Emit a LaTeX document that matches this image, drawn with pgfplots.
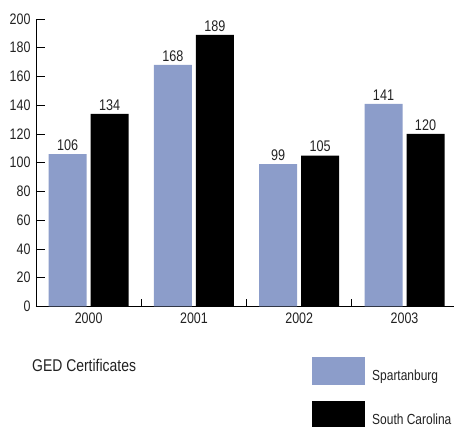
\documentclass[border=0pt]{standalone}
\usepackage{fontspec}
\setmainfont{Liberation Sans}[FakeStretch=0.82]
\usepackage{pgfplots}
\pgfplotsset{compat=1.18}
\definecolor{spbg}{HTML}{8C9DCA}
\definecolor{labgray}{HTML}{222222}

\begin{document}
\begin{tikzpicture}
	\begin{axis}[%
		at = {(0,0)},
		anchor = south west,
		scale only axis,
		width = 418pt,
		height = 287.5pt,
		ybar = 4pt,
		bar width = 38pt,
		xmin = -0.5, xmax = 3.47,
		ymin = 0, ymax = 200,
		axis x line = bottom,
		axis y line = left,
		axis line style = {-, line width=0.9pt},
		tick align = inside,
		tick style = {black, line width=0.8pt},
		major tick length = 9pt,
		minor tick length = 7pt,
		xtick = {0,1,2,3},
		xticklabels = {2000,2001,2002,2003},
		minor xtick = {0.5,1.5,2.5},
		major x tick style = {draw=none},
		ytick = {0,20,...,200},
		/pgf/number format/assume math mode=true,
		ticklabel style = {font=\fontsize{15.2}{17}\selectfont, text=labgray},
		yticklabel style = {xshift=-2pt},
		xticklabel style = {yshift=-3pt},
		nodes near coords,
		every node near coord/.append style = {font=\fontsize{15.4}{17}\selectfont, text=labgray},
		legend cell align = left,
		legend image code/.code = {\fill[#1] (0pt,-9.5pt) rectangle (53pt,18.5pt);},
		legend style = {
			at = {(0.6603,-0.1757)},
			anchor = north west,
			draw = none,
			inner sep = 0pt,
			row sep = 16pt,
			font = \fontsize{14.6}{16}\selectfont,
			text = labgray,
			nodes = {inner sep=0pt},
			/tikz/every odd column/.append style = {column sep=7pt}
		}
	]
		% Spartanburg
		\addplot [fill=spbg, draw=none] coordinates {
			(0,106) (1,168) (2,99) (3,141)
		};
		% South Carolina
		\addplot [fill=black, draw=none] coordinates {
			(0,134) (1,189) (2,105) (3,120)
		};
		\legend{Spartanburg, South Carolina}
	\end{axis}
	\node[anchor=west, inner sep=0pt, text=labgray, font=\fontsize{17}{19}\selectfont]
		at (-4pt,-58.5pt) {GED Certificates};
	\pgfresetboundingbox
	\path[use as bounding box] (-36pt,-120.5pt) rectangle (418pt,306.5pt);
\end{tikzpicture}
\end{document}
